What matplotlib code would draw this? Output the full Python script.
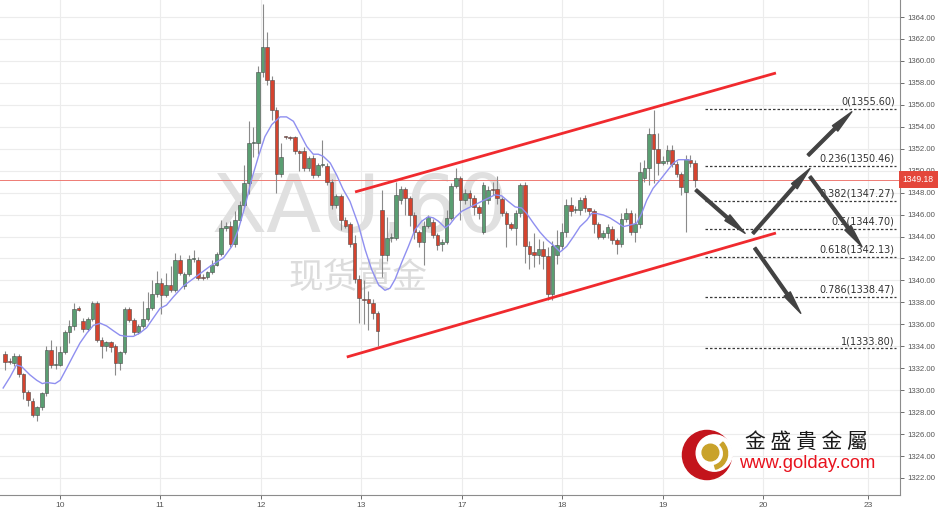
import numpy as np
import matplotlib
matplotlib.use('Agg')
import matplotlib.pyplot as plt
from matplotlib.patches import Circle, Wedge

plt.rcParams['font.family'] = ['Liberation Sans', 'DejaVu Sans']

# hourly XAU candles, x = candle number
opens = [1333.3, 1332.7, 1332.45, 1333.15, 1331.5, 1329.8, 1329.0, 1327.7, 1328.5, 1329.7,
         1333.7, 1332.3, 1332.3, 1333.5, 1335.3, 1335.85, 1337.5, 1336.3, 1335.6, 1336.5,
         1337.9, 1334.6, 1334.0, 1334.4, 1334.0, 1332.45, 1333.5, 1337.4, 1336.4, 1335.3,
         1335.85, 1336.5, 1337.5, 1338.8, 1339.8, 1338.7, 1339.6, 1339.1, 1341.9, 1339.5,
         1340.6, 1341.95, 1341.85, 1340.3, 1340.3, 1340.75, 1341.45, 1342.4, 1344.8, 1345.0,
         1343.3, 1345.55, 1346.9, 1348.9, 1352.5, 1352.5, 1359.0, 1361.3, 1358.3, 1355.5,
         1349.7, 1353.1, 1353.1, 1353.05, 1351.75, 1351.75, 1350.25, 1351.15, 1349.6, 1350.5,
         1350.4, 1348.95, 1346.9, 1347.7, 1345.5, 1345.1, 1343.4, 1340.1, 1338.3, 1338.3,
         1337.9, 1337.0, 1346.4, 1342.3, 1343.9, 1343.9, 1347.3, 1348.3, 1347.5, 1346.0,
         1344.4, 1343.5, 1345.0, 1345.3, 1344.1, 1343.3, 1343.5, 1345.7, 1348.6, 1349.3,
         1347.3, 1348.0, 1347.5, 1346.7, 1344.4, 1347.3, 1348.3, 1348.3, 1347.4, 1346.1,
         1345.1, 1344.8, 1346.1, 1348.7, 1343.1, 1342.6, 1342.3, 1342.9, 1342.2, 1338.8,
         1342.3, 1343.1, 1344.4, 1346.9, 1346.4, 1346.4, 1347.5, 1346.6, 1346.3, 1345.1,
         1344.0, 1344.3, 1344.7, 1343.7, 1343.3, 1345.6, 1346.1, 1344.4, 1345.1, 1349.3,
         1350.2, 1353.3, 1352.0, 1350.7, 1350.9, 1351.9, 1350.6, 1349.7, 1348.1, 1351.0,
         1350.7]
highs = [1333.6, 1332.9, 1333.4, 1333.3, 1331.6, 1330.0, 1329.3, 1328.6, 1329.8, 1334.0,
         1334.6, 1334.0, 1334.0, 1335.5, 1336.4, 1337.9, 1337.7, 1336.6, 1336.7, 1338.1,
         1338.1, 1334.8, 1334.5, 1334.5, 1334.2, 1333.6, 1337.6, 1337.6, 1336.6, 1336.0,
         1338.1, 1338.9, 1340.0, 1340.9, 1340.2, 1340.7, 1341.3, 1342.5, 1342.3, 1340.8,
         1342.3, 1342.8, 1342.1, 1340.6, 1340.9, 1341.9, 1342.6, 1345.5, 1345.3, 1345.4,
         1346.3, 1347.2, 1350.5, 1354.5, 1354.0, 1359.5, 1365.2, 1362.6, 1358.6, 1355.8,
         1352.5, 1353.2, 1353.2, 1353.2, 1351.9, 1352.2, 1351.3, 1351.4, 1350.7, 1352.8,
         1350.7, 1349.2, 1347.9, 1347.9, 1345.8, 1345.3, 1344.1, 1340.5, 1340.0, 1339.0,
         1338.3, 1337.2, 1348.2, 1345.8, 1344.3, 1349.0, 1348.6, 1348.5, 1347.7, 1346.2,
         1344.6, 1345.4, 1346.0, 1345.6, 1344.3, 1343.8, 1346.4, 1348.9, 1350.2, 1349.5,
         1348.3, 1348.2, 1347.8, 1346.9, 1349.0, 1348.6, 1349.0, 1349.5, 1347.6, 1346.3,
         1345.3, 1346.4, 1348.9, 1349.0, 1343.6, 1344.3, 1343.8, 1343.6, 1343.0, 1343.6,
         1344.6, 1345.2, 1347.4, 1347.6, 1346.8, 1347.6, 1347.8, 1346.6, 1346.5, 1345.3,
         1344.6, 1345.1, 1345.0, 1343.9, 1346.1, 1346.6, 1346.4, 1346.1, 1350.8, 1351.0,
         1353.9, 1355.5, 1353.4, 1351.3, 1352.3, 1352.3, 1350.9, 1349.9, 1351.4, 1351.4,
         1351.0]
lows = [1331.8, 1332.4, 1332.2, 1331.2, 1329.2, 1328.6, 1327.6, 1327.2, 1328.2, 1329.5,
        1332.0, 1331.9, 1332.2, 1333.3, 1334.3, 1335.5, 1337.2, 1335.3, 1335.4, 1336.3,
        1334.4, 1332.9, 1333.6, 1333.5, 1331.4, 1331.8, 1333.3, 1336.2, 1335.0, 1335.1,
        1335.7, 1336.3, 1337.3, 1338.5, 1336.9, 1338.5, 1338.9, 1338.9, 1340.5, 1339.2,
        1340.4, 1341.7, 1340.0, 1340.0, 1340.1, 1340.6, 1341.3, 1342.2, 1344.5, 1343.0,
        1343.0, 1345.3, 1346.7, 1347.9, 1351.2, 1351.5, 1358.5, 1357.8, 1354.6, 1348.0,
        1349.4, 1352.9, 1352.8, 1351.5, 1350.0, 1350.0, 1350.0, 1349.3, 1349.4, 1350.3,
        1348.7, 1346.5, 1346.6, 1344.6, 1344.8, 1343.0, 1339.8, 1336.1, 1336.0, 1335.5,
        1336.5, 1334.0, 1340.3, 1341.8, 1343.5, 1343.7, 1347.0, 1346.0, 1345.0, 1343.8,
        1343.0, 1341.4, 1344.8, 1343.9, 1342.8, 1342.7, 1343.3, 1345.5, 1348.4, 1345.5,
        1347.0, 1346.8, 1346.0, 1345.6, 1344.2, 1347.0, 1347.8, 1347.0, 1345.9, 1343.0,
        1344.6, 1343.2, 1345.8, 1341.6, 1341.0, 1341.2, 1341.5, 1341.0, 1338.2, 1338.2,
        1341.5, 1342.8, 1344.0, 1345.9, 1346.1, 1346.0, 1346.2, 1345.9, 1344.3, 1343.8,
        1343.8, 1343.9, 1343.3, 1342.4, 1343.0, 1345.3, 1344.1, 1343.5, 1344.8, 1349.0,
        1348.7, 1348.9, 1349.6, 1350.5, 1350.6, 1350.3, 1349.4, 1347.8, 1344.4, 1350.3,
        1348.5]
closes = [1332.6, 1332.6, 1333.15, 1331.5, 1329.8, 1329.1, 1327.7, 1328.5, 1329.7, 1333.7,
          1332.3, 1332.35, 1333.5, 1335.3, 1335.85, 1337.4, 1337.35, 1335.6, 1336.5, 1337.9,
          1334.6, 1334.0, 1334.4, 1333.9, 1332.45, 1333.5, 1337.4, 1336.4, 1335.3, 1335.85,
          1336.5, 1337.5, 1338.8, 1339.8, 1338.7, 1339.6, 1339.1, 1341.9, 1340.7, 1340.6,
          1341.95, 1342.0, 1340.2, 1340.25, 1340.75, 1341.45, 1342.4, 1344.8, 1345.0, 1343.3,
          1345.55, 1346.9, 1348.9, 1352.5, 1352.55, 1359.0, 1361.3, 1358.3, 1355.5, 1349.7,
          1351.2, 1353.05, 1353.0, 1351.75, 1351.6, 1350.25, 1351.15, 1349.6, 1350.5, 1350.55,
          1348.95, 1346.9, 1347.7, 1345.55, 1345.0, 1343.3, 1340.1, 1338.4, 1338.2, 1337.9,
          1337.0, 1335.4, 1342.3, 1343.9, 1344.0, 1347.8, 1348.3, 1347.5, 1346.0, 1344.4,
          1343.5, 1345.0, 1345.8, 1344.1, 1343.2, 1343.5, 1345.7, 1348.6, 1349.3, 1347.3,
          1348.0, 1347.5, 1346.7, 1346.1, 1348.7, 1348.2, 1348.25, 1347.5, 1346.1, 1345.1,
          1344.8, 1346.1, 1348.7, 1343.1, 1342.4, 1342.3, 1342.9, 1342.2, 1338.8, 1343.1,
          1343.2, 1344.4, 1346.9, 1346.3, 1346.5, 1347.3, 1346.6, 1346.3, 1345.1, 1344.0,
          1344.3, 1344.9, 1343.7, 1343.3, 1345.6, 1346.1, 1344.4, 1345.1, 1349.9, 1350.2,
          1353.3, 1352.0, 1350.7, 1350.9, 1351.9, 1350.6, 1349.7, 1348.5, 1351.1, 1350.7,
          1349.18]

# moving average line
ma_x = [-0.4, 1.1, 2.5, 3.6, 5.4, 6.9, 8.1, 9.1, 10.9, 12, 13.4, 14.9, 16.3, 17.8, 19.2,
        20.7, 22.1, 23.6, 25, 26.4, 27.9, 29.3, 30.8, 32.2, 33.7, 35.1, 36.6,
        38.8, 41.7, 44.6, 47.5, 49.3, 50.7, 52.2, 53.6, 55.1, 56.5, 58, 59.8, 61.2, 62.7,
        64.1, 65.6, 67, 68.1, 69.2, 70.7, 72.1, 73.5, 75,
        76.8, 78.3, 79.7, 81.2, 82.6, 83.7, 84.8, 86.2, 87.7, 89.1, 90.6, 92, 93.1, 94.2,
        95.7, 96.7, 97.8, 99.3, 100.7, 102.2, 103.6, 105.1, 106.5, 108, 109.4, 110.9,
        112.3, 113.4, 114.9, 116.3, 117.8, 119.2, 120.7, 122.1, 123.6, 125, 126.5, 127.5,
        128.6, 130.1, 131.5, 133, 134.4, 135.9, 137.3, 138.4, 139.5, 140.9, 142.4, 143.8,
        145.3, 146.4, 147.8, 148.9]
ma_y = [1330.2, 1331.2, 1332.3, 1332.15, 1331.4, 1330.9, 1330.6, 1330.7, 1330.6, 1330.9,
        1332.0, 1333.2, 1334.3, 1335.2, 1335.9, 1336.1, 1335.85, 1335.4, 1335.0, 1334.9,
        1334.9, 1335.2, 1335.7, 1336.55, 1337.45, 1337.75, 1338.5,
        1339.5, 1340.4, 1341.3, 1342.06, 1343.1, 1344.6, 1346.8, 1349.2, 1351.3, 1353.1,
        1354.2, 1354.9, 1354.9, 1354.5, 1353.4, 1352.2, 1351.5, 1351.5, 1351.3, 1350.7,
        1349.6, 1348.3, 1347.2,
        1345.1, 1342.8, 1341.0, 1339.6, 1339.1, 1339.3, 1340.1, 1341.6, 1343.1, 1344.6,
        1345.4, 1345.8, 1345.7, 1345.4, 1344.8, 1345.1, 1345.7, 1346.3, 1346.6, 1346.9,
        1347.2, 1347.5, 1347.8, 1347.7, 1347.2, 1346.7,
        1346.6, 1346.1, 1345.2, 1344.4, 1343.7, 1343.2, 1342.6, 1343.1, 1344.0, 1344.9,
        1345.5, 1346.1, 1346.1, 1345.96, 1345.7, 1345.3, 1344.9, 1345.05, 1345.2, 1346.1,
        1347.3, 1348.4, 1349.15, 1349.9, 1350.7, 1351.0, 1351.0, 1350.97]

day_pos = [12, 33.7, 55.6, 77.4, 99.3, 121.1, 143, 164.8, 187.6]
day_labels = ['10', '11', '12', '13', '17', '18', '19', '20', '23']

last_price = 1349.18

# channel (start, end) as (candle, price)
chan_up = [(76.1, 1348.06), (167.6, 1358.9)]
chan_lo = [(74.3, 1333.02), (167.6, 1344.32)]

fib_ratio = ['0', '0.236', '0.382', '0.5', '0.618', '0.786', '1']
fib_price = [1355.60, 1350.46, 1347.27, 1344.70, 1342.13, 1338.47, 1333.80]
fib_span = (152.2, 193.7)

# projected path arrows (from, to)
arrows = [((150.2, 1348.24), (160.9, 1344.29)),
          ((162.6, 1344.29), (175.0, 1350.2)),
          ((174.6, 1351.4), (184.1, 1355.37)),
          ((175.0, 1349.45), (186.3, 1343.07)),
          ((163.0, 1342.95), (173.0, 1337.0))]

fig = plt.figure(figsize=(9.38, 5.13), dpi=100)
ax = fig.add_axes([0, 0.0351, 0.9595, 0.9649])

o = np.array(opens); h = np.array(highs); l = np.array(lows); c = np.array(closes)
x = np.arange(len(o))
up = c >= o
green = '#5a9e72'
red = '#d5432f'
cols = np.where(up, green, red)

ax.vlines(x, l, h, color='#8a8a8a', lw=0.8, zorder=3)
body_lo = np.minimum(o, c)
body_h = np.maximum(np.abs(c - o), 0.1)
ax.bar(x, body_h, bottom=body_lo, width=0.75, color=cols, edgecolor='#4a4a4a',
       lw=0.4, zorder=4)

ax.plot(ma_x, ma_y, color='#8f8ff0', lw=1.0, zorder=5)

# grid
for yy in np.arange(1322, 1365, 2):
    ax.axhline(yy, color='#ececec', lw=0.8, zorder=0)
for xx in day_pos:
    ax.axvline(xx, color='#ececec', lw=0.8, zorder=0)

ax.axhline(last_price, color='#ee7b74', lw=0.7, zorder=2)

# watermark
ax.text(0.40, 0.576, 'XAU,60', transform=ax.transAxes, ha='center', va='center',
        fontsize=58, color='#e0e0e0', family='DejaVu Sans', zorder=1)
ax.text(0.398, 0.438, '现货黄金', transform=ax.transAxes, ha='center', va='center',
        fontsize=25, color='#dcdcdc', family=['Noto Sans CJK SC'], zorder=1)

# channel
for seg in (chan_up, chan_lo):
    ax.plot([seg[0][0], seg[1][0]], [seg[0][1], seg[1][1]], color='#f02a2e', lw=2,
            solid_capstyle='butt', zorder=6)

# fibonacci levels
ax.hlines(fib_price, fib_span[0], fib_span[1], colors='#3a3a3a', lw=0.9,
          linestyles=(0, (2, 1.6)), zorder=6)
for r, p in zip(fib_ratio, fib_price):
    ax.text(fib_span[1] - 0.3, p + 0.22, f'{r}({p:.2f})', ha='right', va='bottom',
            fontsize=7, color='#333333', family='DejaVu Sans', zorder=7)

for a, b in arrows:
    ax.annotate('', xy=b, xytext=a,
                arrowprops=dict(arrowstyle='simple,head_length=1.7,head_width=0.55,tail_width=0.2',
                                color='#424242', mutation_scale=10, shrinkA=0, shrinkB=0),
                zorder=8)

ax.set_xlim(-1.09, 194.57)
ax.set_ylim(1320.45, 1365.55)

ax.yaxis.tick_right()
ax.set_yticks(np.arange(1322, 1365, 2))
ax.set_yticklabels([f'{v:.2f}' for v in np.arange(1322, 1365, 2)])
ax.set_xticks(day_pos)
ax.set_xticklabels(day_labels)
ax.tick_params(axis='y', labelsize=5.6, colors='#555555', length=3, width=0.6, pad=2)
ax.tick_params(axis='x', labelsize=6, colors='#555555', length=3, width=0.6, pad=2)
for s in ('left', 'top'):
    ax.spines[s].set_visible(False)
for s in ('right', 'bottom'):
    ax.spines[s].set_color('#8c8c8c')
    ax.spines[s].set_linewidth(0.8)

ax.text(1.003, last_price, f'{last_price:.2f}', transform=ax.get_yaxis_transform(),
        ha='left', va='center', fontsize=6.2, color='white', clip_on=False, zorder=10,
        bbox=dict(boxstyle='square,pad=0.45', fc='#e4463a', ec='none'))

# logo
lax = fig.add_axes([680 / 938, 1 - 482 / 513, 54 / 938, 54 / 513])
lax.set_xlim(-1.1, 1.1)
lax.set_ylim(-1.1, 1.1)
lax.set_aspect('equal')
lax.axis('off')
lax.add_patch(Circle((0, 0), 1.0, color='#c3141c'))
lax.add_patch(Circle((0.3, 0.08), 0.74, color='white'))
lax.add_patch(Wedge((0.18, 0.06), 0.66, -75, 45, width=0.16, color='#c9a22a'))
lax.add_patch(Circle((0.14, 0.1), 0.34, color='#c9a22a'))

fig.text(806 / 938, 1 - 442 / 513, '金 盛 貴 金 屬', ha='center', va='center',
         fontsize=15, color='#1a1a1a', family=['Noto Sans CJK TC'])
fig.text(807 / 938, 1 - 464 / 513, 'www.golday.com', ha='center', va='center',
         fontsize=13.2, color='#e8121d')

fig.savefig('out.png', dpi=100)
